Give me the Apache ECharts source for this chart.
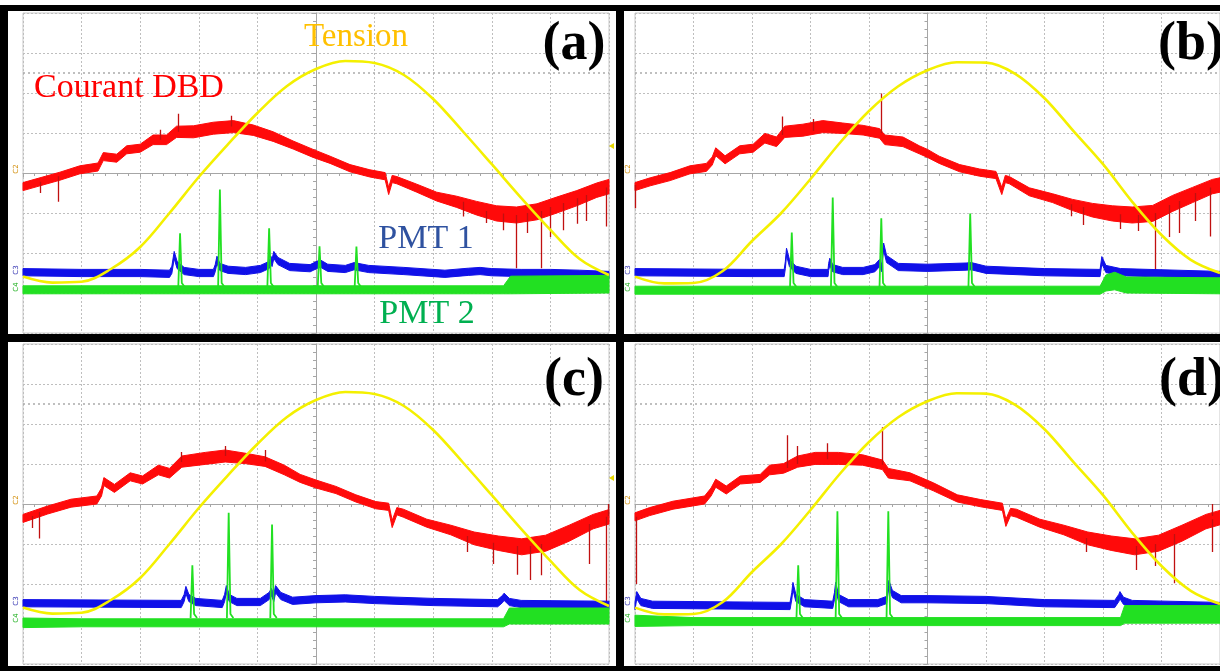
<!DOCTYPE html>
<html><head><meta charset="utf-8">
<script src="https://cdn.jsdelivr.net/npm/echarts@6/dist/echarts.min.js"></script>
<style>html,body{margin:0;padding:0;background:#fff}#c{width:1220px;height:671px}</style>
</head><body><div id="c"></div>
<script>
// Time axis in divisions (-5..5), amplitude in divisions (-4..4)
// Tension (yellow) : [t, y]
const tensionAC = [[-5,-2.59],[-4.5,-2.74],[-4,-2.72],[-3.5,-2.4],[-3,-1.85],[-2.5,-1.0],[-2,-0.1],[-1.5,0.72],[-1,1.5],[-0.5,2.17],[0,2.6],[0.5,2.8],[1,2.75],[1.5,2.45],[2,1.85],[2.5,1.05],[3,0.22],[3.5,-0.62],[4,-1.42],[4.5,-2.15],[5,-2.55]];
const tensionBD = [[-5,-2.59],[-4.5,-2.76],[-4,-2.75],[-3.5,-2.45],[-3,-1.7],[-2.5,-1.0],[-2,-0.15],[-1.5,0.75],[-1,1.55],[-0.5,2.17],[0,2.57],[0.5,2.77],[1,2.76],[1.5,2.48],[2,1.87],[2.5,1.04],[3,0.22],[3.5,-0.72],[4,-1.55],[4.5,-2.17],[5,-2.5]];

// Courant DBD (red) : [t, y, noise half-amplitude]
const redA = [[-5,-0.34,0.1],[-4.71,-0.22,0.1],[-4.37,-0.08,0.1],[-4.03,0.08,0.1],[-3.72,0.15,0.1],[-3.63,0.41,0.1],[-3.4,0.37,0.1],[-3.23,0.58,0.1],[-3,0.62,0.1],[-2.78,0.83,0.12],[-2.55,0.83,0.12],[-2.38,1.03,0.14],[-2.09,1.03,0.15],[-1.75,1.12,0.15],[-1.41,1.16,0.15],[-1.07,1.07,0.13],[-0.73,0.91,0.12],[-0.39,0.7,0.1],[-0.05,0.49,0.1],[0.24,0.33,0.09],[0.58,0.12,0.09],[0.92,-0.01,0.09],[1.18,-0.08,0.09],[1.24,-0.45,0.09],[1.3,-0.15,0.09],[1.38,-0.18,0.09],[1.72,-0.38,0.1],[2.06,-0.59,0.11],[2.4,-0.72,0.14],[2.74,-0.88,0.17],[3.08,-1.01,0.19],[3.42,-1.05,0.2],[3.77,-0.97,0.2],[4.11,-0.8,0.2],[4.45,-0.63,0.19],[4.79,-0.43,0.18],[5,-0.34,0.18]];
const redB = [[-5,-0.34,0.1],[-4.74,-0.22,0.1],[-4.4,-0.09,0.1],[-4.06,0.08,0.1],[-3.78,0.14,0.1],[-3.68,0.3,0.1],[-3.62,0.53,0.1],[-3.46,0.33,0.1],[-3.21,0.58,0.1],[-2.98,0.62,0.1],[-2.78,0.87,0.12],[-2.58,0.78,0.12],[-2.44,1.03,0.14],[-2.13,1.07,0.15],[-1.79,1.16,0.15],[-1.45,1.12,0.13],[-1.1,1.07,0.12],[-0.82,0.99,0.12],[-0.73,0.83,0.12],[-0.42,0.78,0.12],[-0.14,0.58,0.1],[0,0.49,0.1],[0.2,0.33,0.09],[0.55,0.12,0.09],[0.89,0.01,0.09],[1.17,-0.05,0.09],[1.27,-0.45,0.09],[1.33,-0.15,0.09],[1.4,-0.18,0.09],[1.74,-0.47,0.1],[2.14,-0.63,0.11],[2.48,-0.8,0.14],[2.82,-0.93,0.17],[3.16,-1.01,0.19],[3.5,-1.05,0.2],[3.85,-1.01,0.2],[4.19,-0.76,0.2],[4.53,-0.55,0.19],[4.87,-0.34,0.18],[5,-0.3,0.18]];
const redC = [[-5,-0.36,0.1],[-4.58,-0.15,0.1],[-4.18,0.02,0.1],[-3.74,0.1,0.1],[-3.66,0.3,0.1],[-3.62,0.56,0.1],[-3.44,0.39,0.1],[-3.17,0.68,0.1],[-2.96,0.6,0.1],[-2.69,0.85,0.12],[-2.5,0.77,0.12],[-2.29,1.06,0.14],[-1.89,1.14,0.15],[-1.55,1.2,0.15],[-1.21,1.14,0.13],[-0.87,1.06,0.12],[-0.54,0.85,0.12],[-0.27,0.64,0.1],[0,0.5,0.1],[0.34,0.35,0.09],[0.68,0.14,0.09],[1.02,-0.03,0.09],[1.24,-0.07,0.09],[1.3,-0.5,0.09],[1.38,-0.18,0.09],[1.49,-0.23,0.1],[1.89,-0.48,0.1],[2.3,-0.65,0.12],[2.7,-0.86,0.16],[3.11,-0.98,0.18],[3.51,-1.07,0.2],[3.92,-0.98,0.2],[4.32,-0.73,0.2],[4.73,-0.44,0.18],[5,-0.32,0.18]];
const redD = [[-5,-0.32,0.1],[-4.75,-0.19,0.1],[-4.35,-0.03,0.1],[-3.81,0.1,0.1],[-3.7,0.3,0.1],[-3.62,0.52,0.1],[-3.44,0.35,0.1],[-3.2,0.6,0.1],[-2.86,0.64,0.1],[-2.7,0.85,0.12],[-2.46,0.89,0.12],[-2.22,1.06,0.14],[-1.92,1.14,0.15],[-1.52,1.14,0.15],[-1.11,1.1,0.13],[-0.77,0.98,0.12],[-0.67,0.77,0.12],[-0.3,0.68,0.1],[0.1,0.43,0.1],[0.51,0.14,0.09],[0.91,0.02,0.09],[1.28,-0.07,0.09],[1.34,-0.47,0.09],[1.42,-0.2,0.09],[1.52,-0.23,0.1],[1.92,-0.48,0.1],[2.33,-0.65,0.12],[2.74,-0.86,0.16],[3.14,-0.98,0.18],[3.54,-1.07,0.2],[3.95,-0.98,0.2],[4.35,-0.73,0.2],[4.76,-0.44,0.18],[5,-0.34,0.18]];

// Red spikes : [t, from, to]
const redSpikesA = [[-4.7,-0.22,-0.5],[-4.4,-0.08,-0.72],[-2.66,0.83,1.08],[-2.35,1.03,1.48],[-1.44,1.16,1.43],[2.51,-0.72,-1.09],[2.9,-0.95,-1.25],[3.19,-1.01,-1.43],[3.42,-1.05,-2.38],[3.6,-1.0,-1.5],[3.85,-0.95,-2.38],[4.0,-0.85,-1.6],[4.22,-0.75,-1.43],[4.45,-0.63,-1.27],[4.62,-0.55,-1.2],[4.96,-0.36,-1.34]];
const redSpikesB = [[-4.99,-0.3,-0.88],[-2.48,0.95,1.41],[-1.96,1.05,1.35],[-0.79,1.0,1.99],[2.45,-0.78,-1.08],[2.67,-0.85,-1.3],[3.3,-1.03,-1.4],[3.6,-1.05,-1.45],[3.89,-1.0,-2.43],[4.13,-0.8,-1.6],[4.3,-0.7,-1.5],[4.58,-0.5,-1.2],[4.84,-0.36,-1.59]];
const redSpikesC = [[-4.85,-0.3,-0.6],[-4.72,-0.2,-0.86],[-2.3,1.05,1.3],[-1.55,1.2,1.45],[-0.87,1.06,1.35],[2.58,-0.8,-1.2],[3.03,-0.97,-1.5],[3.44,-1.05,-1.77],[3.65,-1.05,-1.9],[3.85,-1.0,-1.78],[4.66,-0.5,-1.5],[4.96,-0.32,-2.82],[4.98,-0.3,0.0]];
const redSpikesD = [[-4.98,-0.32,-2.0],[-2.39,0.9,1.72],[-2.22,1.0,1.45],[-1.72,1.12,1.52],[-0.77,0.98,1.92],[2.72,-0.85,-1.2],[3.56,-1.05,-1.65],[3.9,-1.0,-1.55],[4.22,-0.75,-1.98],[4.86,-0.38,-1.2],[4.86,-0.3,0.0]];

// PMT 1 (blue) : [t, y]
const pmt1A = [[-5,-2.48],[-4,-2.5],[-3,-2.5],[-2.5,-2.52],[-2.46,-2.42],[-2.42,-2.05],[-2.37,-2.3],[-2.25,-2.45],[-2,-2.5],[-1.75,-2.5],[-1.72,-2.38],[-1.69,-2.17],[-1.64,-2.35],[-1.5,-2.42],[-1.2,-2.45],[-0.95,-2.4],[-0.8,-2.3],[-0.77,-2.17],[-0.75,-2.25],[-0.72,-2.05],[-0.65,-2.2],[-0.45,-2.35],[-0.1,-2.38],[0.07,-2.26],[0.2,-2.37],[0.5,-2.4],[0.65,-2.33],[0.9,-2.4],[1.5,-2.45],[2.2,-2.52],[2.6,-2.47],[2.8,-2.45],[3.0,-2.48],[3.5,-2.5],[4,-2.5],[4.5,-2.52],[5,-2.55]];
const pmt1B = [[-5,-2.48],[-3,-2.5],[-2.45,-2.5],[-2.43,-2.3],[-2.41,-1.97],[-2.36,-2.25],[-2.25,-2.42],[-2,-2.5],[-1.7,-2.5],[-1.69,-2.35],[-1.67,-2.22],[-1.62,-2.38],[-1.45,-2.45],[-1.1,-2.45],[-0.9,-2.38],[-0.82,-2.25],[-0.78,-2.38],[-0.77,-2.1],[-0.75,-1.84],[-0.7,-2.15],[-0.5,-2.35],[0,-2.37],[0.66,-2.34],[0.75,-2.33],[1,-2.42],[2,-2.48],[2.95,-2.5],[2.98,-2.18],[3.05,-2.4],[3.3,-2.48],[5,-2.55]];
const pmt1C = [[-5,-2.48],[-2.3,-2.5],[-2.25,-2.35],[-2.22,-2.15],[-2.17,-2.35],[-2.05,-2.45],[-1.6,-2.5],[-1.56,-2.35],[-1.53,-2.13],[-1.48,-2.35],[-1.35,-2.45],[-0.95,-2.45],[-0.8,-2.3],[-0.76,-2.2],[-0.72,-2.35],[-0.69,-2.13],[-0.6,-2.3],[-0.4,-2.42],[0,-2.38],[0.5,-2.36],[1,-2.4],[2,-2.45],[3.1,-2.48],[3.18,-2.38],[3.21,-2.32],[3.3,-2.45],[3.5,-2.5],[5,-2.52]];
const pmt1D = [[-5,-2.55],[-4.97,-2.28],[-4.9,-2.45],[-4.7,-2.52],[-2.35,-2.55],[-2.32,-2.3],[-2.3,-2.05],[-2.25,-2.35],[-2.1,-2.48],[-1.62,-2.52],[-1.59,-2.3],[-1.57,-2.05],[-1.52,-2.35],[-1.35,-2.48],[-0.85,-2.48],[-0.7,-2.4],[-0.66,-2.0],[-0.6,-2.25],[-0.45,-2.38],[0,-2.38],[1,-2.4],[2,-2.48],[3.2,-2.5],[3.27,-2.35],[3.29,-2.28],[3.35,-2.42],[3.5,-2.5],[5,-2.55]];
const pmt1Noise = 0.09;

// PMT 2 (green) baseline : [t, y, noise half-amplitude]
const pmt2A = [[-5,-2.92,0.1],[3.2,-2.92,0.1],[3.32,-2.8,0.22],[5,-2.78,0.22]];
const pmt2B = [[-5,-2.93,0.1],[2.95,-2.93,0.1],[3.05,-2.75,0.2],[3.2,-2.7,0.22],[3.4,-2.8,0.2],[5,-2.82,0.2]];
const pmt2C = [[-5,-2.97,0.12],[-4,-2.97,0.1],[3.2,-2.97,0.1],[3.3,-2.8,0.2],[5,-2.8,0.2]];
const pmt2D = [[-5,-2.92,0.14],[-4,-2.94,0.1],[3.3,-2.94,0.1],[3.37,-2.76,0.22],[5,-2.76,0.22]];
// PMT 2 spikes : [t, tip]
const pmt2SpikesA = [[-2.32,-1.51],[-1.64,-0.41],[-0.8,-1.38],[0.06,-1.83],[0.69,-1.84]];
const pmt2SpikesB = [[-2.32,-1.49],[-1.62,-0.61],[-0.79,-1.13],[0.73,-1.01]];
const pmt2SpikesC = [[-2.11,-1.53],[-1.49,-0.22],[-0.75,-0.51]];
const pmt2SpikesD = [[-2.21,-1.53],[-1.54,-0.18],[-0.67,-0.18]];

const panelLetters = ['(a)','(b)','(c)','(d)'];

const panels = [
  {tension:tensionAC, red:redA, redSp:redSpikesA, p1:pmt1A, p2:pmt2A, p2Sp:pmt2SpikesA},
  {tension:tensionBD, red:redB, redSp:redSpikesB, p1:pmt1B, p2:pmt2B, p2Sp:pmt2SpikesB},
  {tension:tensionAC, red:redC, redSp:redSpikesC, p1:pmt1C, p2:pmt2C, p2Sp:pmt2SpikesC},
  {tension:tensionBD, red:redD, redSp:redSpikesD, p1:pmt1D, p2:pmt2D, p2Sp:pmt2SpikesD}
];

const gridBoxes = [
  {left:23, top:13, width:586, height:320},
  {left:635, top:13, width:586, height:320},
  {left:23, top:344, width:586, height:320},
  {left:635, top:344, width:586, height:320}
];

const C_RED = '#FF0a0a', C_RED_SPIKE = '#C01010', C_BLUE = '#1010E8', C_GREEN = '#22E022', C_YEL = '#F4F000';
const GRIDC = '#BEBEBE';

const grid = [], xAxis = [], yAxis = [], series = [];

// Noisy trace drawn as a band (centre +/- noise amplitude) through the axes' scales
function band(gi, arr, color, z){
  return {type:'custom', coordinateSystem:'cartesian2d', xAxisIndex:gi, yAxisIndex:gi, silent:true, z,
    data:arr, encode:{x:0, y:1},
    renderItem:(params, api) => {
      if (params.dataIndex !== 0) return null;
      const up = arr.map(p => api.coord([p[0], p[1] + p[2]]));
      const lo = arr.slice().reverse().map(p => api.coord([p[0], p[1] - p[2]]));
      return {type:'polygon', shape:{points:up.concat(lo)}, style:{fill:color, stroke:color, lineWidth:1}};
    }};
}

panels.forEach((p, gi) => {
  grid.push(Object.assign({show:true, borderColor:'#C8C8C8', borderWidth:1, backgroundColor:'#fff'}, gridBoxes[gi]));
  xAxis.push({gridIndex:gi, type:'value', min:-5, max:5, interval:1,
    axisLine:{show:true, onZero:true, lineStyle:{color:'#A6A6A6', width:1}},
    axisTick:{show:true, length:4, lineStyle:{color:'#A6A6A6'}},
    minorTick:{show:true, splitNumber:5, length:3, lineStyle:{color:'#A6A6A6'}},
    axisLabel:{show:false},
    splitLine:{show:true, lineStyle:{color:GRIDC, type:[2,2], width:1}}});
  yAxis.push({gridIndex:gi, type:'value', min:-4, max:4, interval:1,
    axisLine:{show:true, onZero:true, lineStyle:{color:'#A6A6A6', width:1}},
    axisTick:{show:true, length:4, lineStyle:{color:'#A6A6A6'}},
    minorTick:{show:true, splitNumber:5, length:3, lineStyle:{color:'#A6A6A6'}},
    axisLabel:{show:false},
    splitLine:{show:true, lineStyle:{color:GRIDC, type:[2,2], width:1}}});

  series.push(band(gi, p.red, C_RED, 2));
  series.push({type:'lines', coordinateSystem:'cartesian2d', xAxisIndex:gi, yAxisIndex:gi, silent:true, z:2,
    lineStyle:{color:C_RED_SPIKE, width:1.3, opacity:1},
    data:p.redSp.map(s => ({coords:[[s[0], s[1]], [s[0], s[2]]]}))});
  series.push(band(gi, p.p1.map(q => [q[0], q[1], pmt1Noise]), C_BLUE, 3));
  series.push(band(gi, p.p2, C_GREEN, 4));
  series.push({type:'lines', coordinateSystem:'cartesian2d', polyline:true, xAxisIndex:gi, yAxisIndex:gi, silent:true, z:4,
    lineStyle:{color:C_GREEN, width:1.8, opacity:1},
    data:p.p2Sp.map(s => ({coords:[[s[0]-0.03, -2.85], [s[0], s[1]], [s[0]+0.03, -2.75], [s[0]+0.08, -2.85]]}))});
  series.push({type:'line', xAxisIndex:gi, yAxisIndex:gi, data:p.tension, smooth:0.35, symbol:'none', silent:true, z:6,
    lineStyle:{color:C_YEL, width:2.6},
    markLine:{silent:true, symbol:'none', label:{show:false}, lineStyle:{color:'#ABABAB', type:[2,3], width:1.5},
      data:[{yAxis:2.5}]}});
});

const serif = '"Liberation Serif", "Times New Roman", serif';
function txt(t, x, y, size, color, bold){
  return {type:'text', x, y, z:50, silent:true,
    style:{text:t, fill:color, font:(bold?'bold ':'')+size+'px '+serif, align:'center', verticalAlign:'middle'}};
}
function rect(x, y, w, h){ return {type:'rect', z:40, silent:true, shape:{x, y, width:w, height:h}, style:{fill:'#000'}}; }
function chan(t, x, y, color){
  return {type:'text', x, y, rotation:Math.PI/2, z:45, silent:true,
    style:{text:t, fill:color, font:'7px "DejaVu Sans", sans-serif', align:'center', verticalAlign:'middle'}};
}

const graphic = [
  rect(0, 5, 1220, 6), rect(0, 5, 8, 666), rect(616, 5, 8, 666), rect(0, 334, 1220, 8), rect(0, 666, 1220, 5),
  txt('Tension', 356, 37, 33, '#FFC000'),
  txt('Courant DBD', 129, 88, 34, '#FF0000'),
  txt('PMT 1', 426, 239, 34, '#2F52A0'),
  txt('PMT 2', 427, 314, 34, '#00B050'),
  txt(panelLetters[0], 574, 45, 54, '#000', true),
  txt(panelLetters[1], 1191, 45, 54, '#000', true),
  txt(panelLetters[2], 574, 381, 54, '#000', true),
  txt(panelLetters[3], 1192, 381, 54, '#000', true)
];
[[16, 0], [628, 0], [16, 331], [628, 331]].forEach(o => {
  graphic.push(chan('C2', o[0], 169 + o[1], '#D08A00'));
  graphic.push(chan('C3', o[0], 270 + o[1], '#3030B0'));
  graphic.push(chan('C4', o[0], 287 + o[1], '#20B020'));
});
graphic.push({type:'polygon', z:45, silent:true, shape:{points:[[609,146],[614,143],[614,149]]}, style:{fill:'#E8D800'}});
graphic.push({type:'polygon', z:45, silent:true, shape:{points:[[609,478],[614,475],[614,481]]}, style:{fill:'#E8D800'}});

const chart = echarts.init(document.getElementById('c'), null, {renderer:'canvas'});
chart.setOption({animation:false, backgroundColor:'#fff', grid, xAxis, yAxis, series, graphic});
</script>
</body></html>
